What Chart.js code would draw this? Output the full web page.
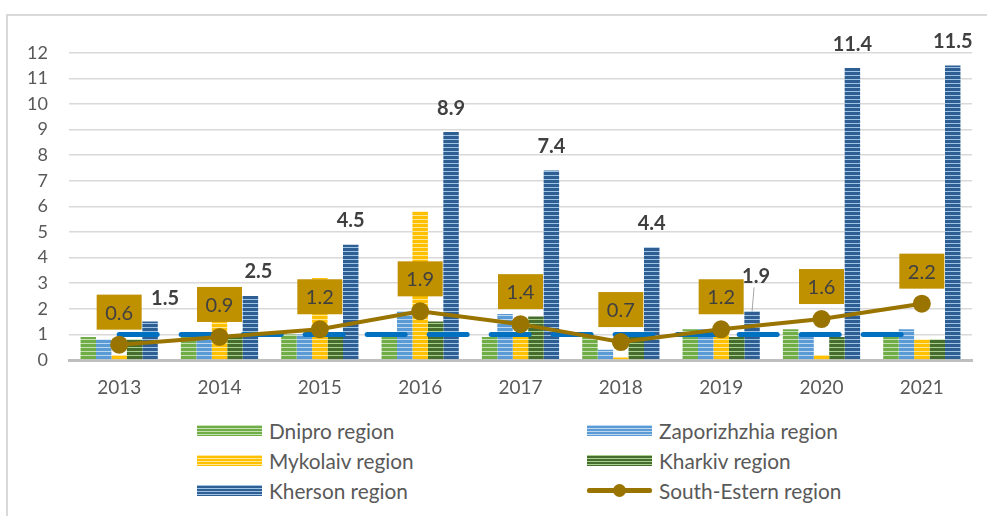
<!DOCTYPE html>
<html>
<head>
<meta charset="utf-8">
<script src="https://cdn.jsdelivr.net/npm/chart.js@4.4.1/dist/chart.umd.min.js"></script>
<style>
  body { margin: 0; background: #fff; width: 987px; height: 516px; overflow: hidden; position: relative; font-family: Lato, "Open Sans", sans-serif; }
  #frame { position: absolute; left: 6px; top: 14px; width: 1000px; height: 520px; border: 2px solid #d9d9d9; box-sizing: border-box; }
  #chart { position: absolute; left: 0; top: 0; }
  #legend { position: absolute; left: 197px; top: 415px; display: grid; grid-template-columns: 390px 320px; }
  .item { display: flex; align-items: center; height: 30px; color: #595959; font-size: 20.8px; white-space: nowrap; }
  .swatch { width: 65px; height: 11px; margin-right: 7px; flex: none; position: relative; }
</style>
</head>
<body>
<div id="frame"></div>
<canvas id="chart" width="987" height="400"></canvas>
<div id="legend"></div>
<script>
const years = ["2013", "2014", "2015", "2016", "2017", "2018", "2019", "2020", "2021"];

const dnipro = [0.9, 0.9, 1.0, 0.9, 0.9, 0.9, 1.2, 1.2, 0.9];
const zaporizhzhia = [0.8, 0.8, 1.0, 1.9, 1.8, 0.4, 1.2, 1.0, 1.2];
const mykolaiv = [0.2, 1.5, 3.2, 5.8, 1.0, 0.1, 1.0, 0.2, 0.8];
const kharkiv = [0.8, 0.9, 0.9, 1.5, 1.7, 0.9, 0.9, 0.9, 0.8];
const kherson = [1.5, 2.5, 4.5, 8.9, 7.4, 4.4, 1.9, 11.4, 11.5];
const southEastern = [0.6, 0.9, 1.2, 1.9, 1.4, 0.7, 1.2, 1.6, 2.2];
const threshold = [1, 1, 1, 1, 1, 1, 1, 1, 1];

// label nudges for the Kherson values that Excel moved to avoid overlaps
const khersonLabelShift = [[15, 1], [8, 0], [0, 0], [0, 0], [0, 0], [0, 0], [4, -11], [0, 0], [0, 0]];

const barStyles = [
  { name: "Dnipro region", data: dnipro, base: "#70ad47", stripe: "#c5e0b4" },
  { name: "Zaporizhzhia region", data: zaporizhzhia, base: "#5b9bd5", stripe: "#bdd7ee" },
  { name: "Mykolaiv region", data: mykolaiv, base: "#ffc000", stripe: "#ffe699" },
  { name: "Kharkiv region", data: kharkiv, base: "#466c2e", stripe: "#a9d18e" },
  { name: "Kherson region", data: kherson, base: "#2e5e92", stripe: "#9dc3e6" }
];
const lineColor = "#9a7400";
const boxColor = "#bf9000";

function makePattern(base, stripe) {
  const c = document.createElement("canvas");
  c.width = 4;
  c.height = 4;
  const g = c.getContext("2d");
  g.fillStyle = base;
  g.fillRect(0, 0, 4, 4);
  g.fillStyle = stripe;
  g.fillRect(0, 3, 4, 1);
  return g.createPattern(c, "repeat");
}

const labelPlugin = {
  id: "valueLabels",
  afterDatasetsDraw(chart) {
    const ctx = chart.ctx;
    ctx.save();
    ctx.textAlign = "center";
    ctx.textBaseline = "middle";

    // Kherson values above the bars
    const kMeta = chart.getDatasetMeta(6);
    ctx.font = "bold 20px Lato";
    kMeta.data.forEach((bar, i) => {
      const [dx, dy] = khersonLabelShift[i];
      const x = bar.x + dx;
      const y = bar.y - 24 + dy;
      if (dy < -5) {
        ctx.strokeStyle = "#a6a6a6";
        ctx.lineWidth = 1;
        ctx.beginPath();
        ctx.moveTo(x - 2, y + 11);
        ctx.lineTo(bar.x, bar.y);
        ctx.stroke();
      }
      ctx.fillStyle = "#404040";
      ctx.fillText(kherson[i].toFixed(1), x, y);
    });

    // South-Estern values in gold boxes
    const sMeta = chart.getDatasetMeta(0);
    ctx.font = "20px Lato";
    sMeta.data.forEach((pt, i) => {
      const w = 45, h = 35;
      const bottom = pt.y - 15;
      ctx.fillStyle = boxColor;
      ctx.fillRect(pt.x - w / 2, bottom - h, w, h);
      ctx.fillStyle = "#404040";
      ctx.fillText(southEastern[i].toFixed(1), pt.x, bottom - h / 2 + 1);
    });
    ctx.restore();
  }
};

const ctx = document.getElementById("chart").getContext("2d");

const datasets = [
  {
    type: "line",
    label: "South-Estern region",
    data: southEastern,
    borderColor: lineColor,
    backgroundColor: lineColor,
    borderWidth: 4,
    pointRadius: 7,
    pointBackgroundColor: lineColor,
    pointBorderColor: lineColor,
    tension: 0,
    order: 0
  },
  {
    type: "line",
    label: "Threshold",
    data: threshold,
    borderColor: "#0070c0",
    borderWidth: 5,
    borderDash: [38, 24],
    borderCapStyle: "round",
    pointRadius: 0,
    tension: 0,
    order: 1
  }
];
barStyles.forEach(s => {
  datasets.push({
    type: "bar",
    label: s.name,
    data: s.data,
    backgroundColor: makePattern(s.base, s.stripe),
    borderWidth: 0,
    categoryPercentage: 0.77,
    barPercentage: 1.0,
    order: 2
  });
});

const chart = new Chart(ctx, {
  data: { labels: years, datasets: datasets },
  options: {
    responsive: false,
    animation: false,
    layout: { padding: { top: 52.7, right: 15, bottom: 0, left: 0 } },
    plugins: {
      legend: { display: false },
      tooltip: { enabled: false }
    },
    scales: {
      x: {
        grid: { display: false, drawTicks: false },
        border: { display: true, color: "#bfbfbf", width: 3 },
        ticks: { color: "#595959", font: { family: "Lato", size: 19 }, padding: 16 },
        afterFit(scale) { scale.height = 40; }
      },
      y: {
        min: 0,
        max: 12,
        grid: { color: "#d9d9d9", lineWidth: 1.5, drawTicks: false },
        border: { display: false },
        ticks: { stepSize: 1, color: "#595959", font: { family: "Lato", size: 18 }, padding: 21 },
        afterFit(scale) { scale.width = 69; }
      }
    }
  },
  plugins: [labelPlugin]
});

// legend in Excel's two-column layout
const legendOrder = [
  barStyles[0], barStyles[1], barStyles[2], barStyles[3], barStyles[4], null
];
const legend = document.getElementById("legend");
legendOrder.forEach(s => {
  const item = document.createElement("div");
  item.className = "item";
  const sw = document.createElement("div");
  sw.className = "swatch";
  let name;
  if (s) {
    sw.style.background = "repeating-linear-gradient(to bottom, " + s.stripe + " 0 1px, " + s.base + " 1px 3px)";
    name = s.name;
  } else {
    sw.innerHTML = '<div style="position:absolute;left:0;right:0;top:3px;height:5px;background:' + lineColor +
      ';border-radius:2px"></div><div style="position:absolute;left:26px;top:-1px;width:13px;height:13px;border-radius:7px;background:' + lineColor + '"></div>';
    name = datasets[0].label;
  }
  item.appendChild(sw);
  item.appendChild(document.createTextNode(name));
  legend.appendChild(item);
});
</script>
</body>
</html>
